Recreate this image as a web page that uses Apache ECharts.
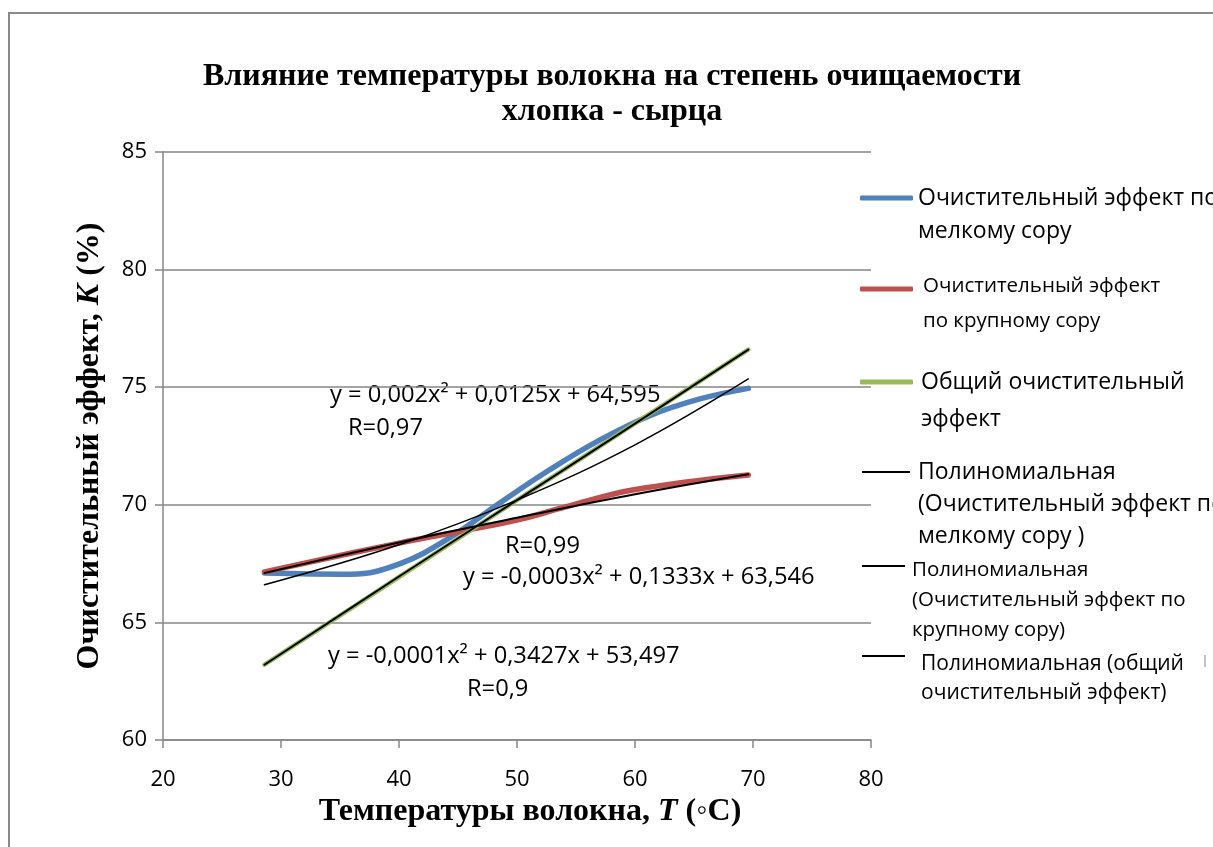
<!DOCTYPE html>
<html>
<head>
<meta charset="utf-8">
<script src="https://cdn.jsdelivr.net/npm/echarts@6.0.0/dist/echarts.min.js"></script>
<style>
  html, body { margin: 0; padding: 0; background: #fff; }
  #chart { width: 1213px; height: 847px; }
</style>
</head>
<body>
<div id="chart"></div>
<script>
// axis ticks
const xTicks = { min: 20, max: 80, interval: 10 };
const yTicks = { min: 60, max: 85, interval: 5 };

// measured curves (temperature, %)
const xFine = [28.6, 35.9, 40.1, 44.3, 48.6, 52.8, 57.0, 61.3, 65.5, 69.6];
const fineEffect = [67.1, 67.05, 67.5, 68.6, 70.1, 71.5, 72.75, 73.8, 74.5, 74.95];

const xCoarse = [28.6, 40.0, 45.8, 50.0, 54.2, 59.8, 69.6];
const coarseEffect = [67.15, 68.37, 68.93, 69.35, 69.92, 70.63, 71.27];

const xTotal = [28.6, 40, 50, 60, 69.6];
const totalEffect = [63.2, 66.93, 70.2, 73.46, 76.6];

// polynomial trend lines
const xTrend = [28.6, 40, 50, 60, 69.6];
const fineTrend = [66.6, 68.3, 70.2, 72.55, 75.35];
const coarseTrend = [67.1, 68.4, 69.45, 70.45, 71.3];
const totalTrend = [63.2, 66.95, 70.2, 73.45, 76.6];

const seriesNames = [
    'Очистительный эффект по мелкому сору',
    'Очистительный эффект по крупному сору',
    'Общий очистительный эффект',
    'Полиномиальная (Очистительный эффект по мелкому сору )',
    'Полиномиальная (Очистительный эффект по крупному сору)',
    'Полиномиальная (общий очистительный эффект)'
];
const legendLines = [
    ['Очистительный эффект по', 'мелкому сору'],
    ['Очистительный эффект', 'по крупному сору'],
    ['Общий очистительный', 'эффект'],
    ['Полиномиальная', '(Очистительный эффект по', 'мелкому сору )'],
    ['Полиномиальная', '(Очистительный эффект по', 'крупному сору)'],
    ['Полиномиальная (общий', 'очистительный эффект)']
];

const sans = '"Open Sans", "Noto Sans", sans-serif';
const serif = '"Liberation Serif", "DejaVu Serif", serif';

function pairs(xs, ys) {
    return xs.map((x, i) => [x, ys[i]]);
}

function lineSeries(idx, xs, ys, color, width) {
    return {
        name: seriesNames[idx],
        type: 'line',
        data: pairs(xs, ys),
        smooth: 0.4,
        showSymbol: false,
        symbol: 'none',
        color: color,
        lineStyle: { color: color, width: width, cap: 'round' },
        silent: true,
        z: idx < 3 ? 2 : 3
    };
}

// one legend box per entry, so each can sit where Excel put it.
// ECharts centres the text block on the icon, so a spacer line of
// height h on top moves the first text line to iconY + dy
function legendBox(idx, left, iconY, dy, lineH, fontSize, iconW, iconH, textShift) {
    const lines = legendLines[idx];
    const n = lines.length;
    const h = (n - 1) * lineH + 2 * dy;
    return {
        data: [seriesNames[idx]],
        left: left,
        top: iconY - (h + n * lineH) / 2,
        padding: 0,
        itemWidth: iconW,
        itemHeight: iconH,
        icon: iconH > 3 ? 'roundRect' : 'rect',
        selectedMode: false,
        formatter: () => '{g| }\n' + lines.map(l => '{t|' + l + '}').join('\n'),
        textStyle: {
            fontFamily: sans,
            fontSize: fontSize,
            color: '#000',
            padding: [0, 0, 0, textShift],
            rich: {
                g: { fontSize: 1, lineHeight: h, height: h },
                t: { fontFamily: sans, fontSize: fontSize, lineHeight: lineH, color: '#000' }
            }
        }
    };
}

function note(text, x, y) {
    return {
        type: 'text',
        x: x,
        y: y,
        silent: true,
        style: {
            text: text,
            font: '23.7px ' + sans,
            fill: '#000',
            verticalAlign: 'middle'
        }
    };
}

const chart = echarts.init(document.getElementById('chart'), null, { renderer: 'canvas' });

const option = {
    backgroundColor: '#fff',
    animation: false,
    title: {
        text: 'Влияние температуры волокна на степень очищаемости\nхлопка - сырца',
        left: 612,
        textAlign: 'center',
        top: 59,
        padding: 0,
        textStyle: {
            fontFamily: serif,
            fontWeight: 'bold',
            fontSize: 32,
            lineHeight: 35,
            color: '#000'
        }
    },
    grid: { left: 163, right: 342, top: 152, bottom: 107, containLabel: false },
    xAxis: {
        type: 'value',
        min: xTicks.min,
        max: xTicks.max,
        interval: xTicks.interval,
        name: '{b|Температуры волокна, }{bi|T}{b| (◦C)}',
        nameLocation: 'middle',
        nameGap: 43,
        nameTextStyle: {
            padding: [0, 0, 0, 26],
            rich: {
                b: { fontFamily: serif, fontWeight: 'bold', fontSize: 32, color: '#000' },
                bi: { fontFamily: serif, fontWeight: 'bold', fontStyle: 'italic', fontSize: 32, color: '#000' }
            }
        },
        axisLine: { lineStyle: { color: '#868686', width: 1.5 } },
        axisTick: { show: true, inside: false, length: 8, lineStyle: { color: '#868686', width: 1.5 } },
        axisLabel: { margin: 29, fontFamily: sans, fontSize: 22, color: '#000' },
        splitLine: { show: false }
    },
    yAxis: {
        type: 'value',
        min: yTicks.min,
        max: yTicks.max,
        interval: yTicks.interval,
        name: '{b|Очистительный эффект, }{bi|K}{b| (%)}',
        nameLocation: 'middle',
        nameRotate: 90,
        nameGap: 57,
        nameTextStyle: {
            rich: {
                b: { fontFamily: serif, fontWeight: 'bold', fontSize: 32, color: '#000' },
                bi: { fontFamily: serif, fontWeight: 'bold', fontStyle: 'italic', fontSize: 32, color: '#000' }
            }
        },
        axisLine: { show: true, lineStyle: { color: '#868686', width: 1.5 } },
        axisTick: { show: true, inside: false, length: 8, lineStyle: { color: '#868686', width: 1.5 } },
        axisLabel: { margin: 16, fontFamily: sans, fontSize: 22, color: '#000' },
        splitLine: { show: true, lineStyle: { color: '#868686', width: 1.5 } }
    },
    legend: [
        legendBox(0, 860, 198, 0, 33, 23, 53, 5, 0),
        legendBox(1, 860, 289, -3, 35, 20.5, 53, 5, 5),
        legendBox(2, 860, 382, 0, 37, 23, 53, 5, 3),
        legendBox(3, 862, 472, 0, 32, 23, 48, 2, 3),
        legendBox(4, 862, 566, 4, 30, 20.5, 43, 2, 2),
        legendBox(5, 862, 656, 8, 29, 21, 43, 2, 11)
    ],
    series: [
        lineSeries(0, xFine, fineEffect, '#4F81BD', 5.5),
        lineSeries(1, xCoarse, coarseEffect, '#C0504D', 5.5),
        lineSeries(2, xTotal, totalEffect, '#9BBB59', 4.5),
        lineSeries(3, xTrend, fineTrend, '#000000', 1.5),
        lineSeries(4, xTrend, coarseTrend, '#000000', 2),
        lineSeries(5, xTrend, totalTrend, '#000000', 2)
    ],
    graphic: [
        {
            type: 'rect',
            silent: true,
            shape: { x: 9, y: 13, width: 1400, height: 1000 },
            style: { fill: 'none', stroke: '#8a8a8a', lineWidth: 2 },
            z: 0
        },
        {
            type: 'line',
            silent: true,
            shape: { x1: 1205, y1: 655, x2: 1205, y2: 667 },
            style: { stroke: '#8a8a8a', lineWidth: 1 }
        },
        note('y = 0,002x² + 0,0125x + 64,595', 330, 395),
        note('R=0,97', 348, 428),
        note('R=0,99', 505, 546),
        note('y = -0,0003x² + 0,1333x + 63,546', 463, 577),
        note('y = -0,0001x² + 0,3427x + 53,497', 328, 656),
        note('R=0,9', 467, 689)
    ]
};

chart.setOption(option);
</script>
</body>
</html>
